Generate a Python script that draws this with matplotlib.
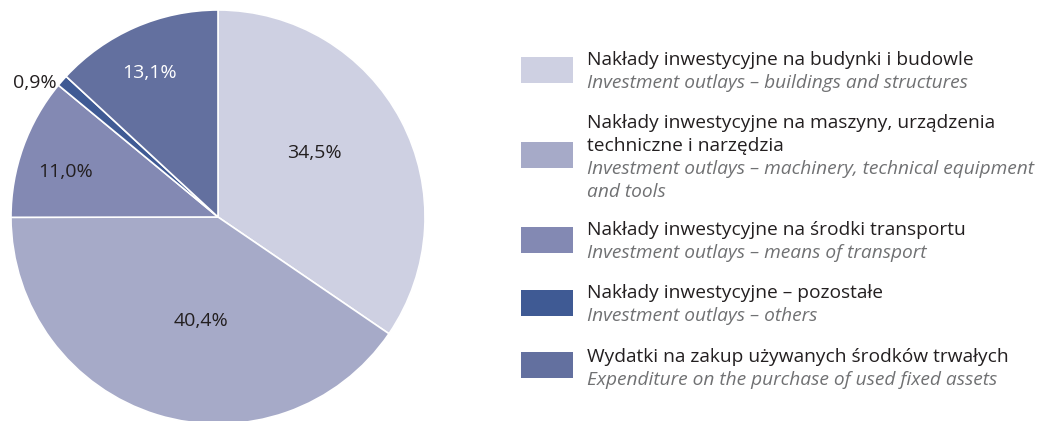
import numpy as np
import matplotlib
matplotlib.use("Agg")
import matplotlib.pyplot as plt
from matplotlib.patches import Rectangle

plt.rcParams["font.family"] = ["Open Sans", "DejaVu Sans"]

values = [34.5, 40.4, 11.0, 0.9, 13.1]
labels = ["34,5%", "40,4%", "11,0%", "0,9%", "13,1%"]
colors = ["#ced0e2", "#a6aac8", "#8389b3", "#3f5a94", "#63709f"]
names_pl = [
    ["Nakłady inwestycyjne na budynki i budowle"],
    ["Nakłady inwestycyjne na maszyny, urządzenia", "techniczne i narzędzia"],
    ["Nakłady inwestycyjne na środki transportu"],
    ["Nakłady inwestycyjne – pozostałe"],
    ["Wydatki na zakup używanych środków trwałych"],
]
names_en = [
    ["Investment outlays – buildings and structures"],
    ["Investment outlays – machinery, technical equipment", "and tools"],
    ["Investment outlays – means of transport"],
    ["Investment outlays – others"],
    ["Expenditure on the purchase of used fixed assets"],
]

W, H = 1044, 421
fig = plt.figure(figsize=(W / 100, H / 100), dpi=100)
ax = fig.add_axes([0, 0, 1, 1])

cx, cy, r = 218, H - 217, 207
wedges, _ = ax.pie(values, colors=colors, startangle=90, counterclock=False,
                   center=(cx, cy), radius=r, frame=True,
                   wedgeprops=dict(edgecolor="white", linewidth=1.2))
ax.set_xlim(0, W)
ax.set_ylim(0, H)
ax.set_aspect("equal")
ax.axis("off")

# label distance (fraction of radius), angle shift and colour per wedge
dist = [0.56, 0.51, 0.77, 1.095, 0.77]
shift = [5.5, 7.7, 3.3, 4.9, 1.7]
tcol = ["#231f20", "#231f20", "#231f20", "#231f20", "white"]
for w, lab, d, s, c in zip(wedges, labels, dist, shift, tcol):
    ang = np.deg2rad((w.theta1 + w.theta2) / 2 + s)
    ax.text(cx + d * r * np.cos(ang), cy + d * r * np.sin(ang), lab,
            ha="center", va="center", fontsize=14, color=c)

# legend
sq_y = [70, 155, 240, 303, 365]
base_y = [65, 128, 235, 298, 362]
line_h = 23
for i in range(len(values)):
    ax.add_patch(Rectangle((521, H - sq_y[i] - 13), 52, 26, color=colors[i], lw=0))
    y = base_y[i]
    for s in names_pl[i]:
        ax.text(587, H - y, s, ha="left", va="baseline", fontsize=13.8, color="#231f20")
        y += line_h
    for s in names_en[i]:
        ax.text(587, H - y, s, ha="left", va="baseline", fontsize=13.8,
                color="#707173", style="italic")
        y += line_h

fig.savefig("out.png", dpi=100)
